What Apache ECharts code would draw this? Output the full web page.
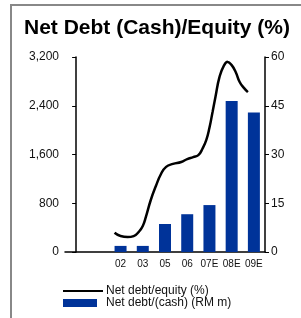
<!DOCTYPE html>
<html>
<head>
    <meta charset="utf-8" />
    <title>Net Debt (Cash)/Equity (%)</title>
    <script src="https://cdn.jsdelivr.net/npm/echarts@6/dist/echarts.min.js"></script>
    <style>
        html, body { margin: 0; padding: 0; background: #fff; overflow: hidden; }
    </style>
</head>
<body>
<div id="main" style="width: 301px; height: 318px"></div>
<script type="text/javascript">
    // categories (two blank slots before 02, 04 not shown)
    var categories = ['', '', '02', '03', '05', '06', '07E', '08E', '09E'];
    // net debt/(cash) RM m, left axis
    var netDebt = [null, null, 100, 100, 460, 620, 770, 2480, 2290];
    // net debt/equity %, right axis; x is the position along the category slots
    var gearingPos = [1.73, 2.0, 2.32, 2.59, 2.82, 3.0, 3.14, 3.36, 3.59, 3.82, 4.05, 4.36, 4.73, 5.0,
        5.27, 5.5, 5.68, 5.86, 6.0, 6.14, 6.27, 6.45, 6.64, 6.82, 7.0, 7.18, 7.36, 7.55, 7.73];
    var gearing = [5.9, 4.9, 4.6, 4.9, 6.2, 8.0, 10.8, 16.0, 20.3, 24.0, 26.2, 27.1, 27.7, 28.6,
        29.2, 29.8, 31.7, 34.5, 38.2, 43.1, 47.7, 53.8, 57.2, 58.5, 57.5, 55.4, 52.3, 50.5, 49.2];
    var leftTicks = [0, 800, 1600, 2400, 3200];
    var rightTicks = [0, 15, 30, 45, 60];

    var lineData = [];
    for (var i = 0; i < gearing.length; i++) {
        lineData.push([gearingPos[i], gearing[i]]);
    }

    var font = 'Liberation Sans, Arial, sans-serif';
    var myChart = echarts.init(document.getElementById('main'));
    myChart.setOption({
        animation: false,
        textStyle: { fontFamily: font },
        graphic: [{
            type: 'line',
            shape: { x1: 11, y1: 5, x2: 11, y2: 318 },
            style: { stroke: '#888', lineWidth: 2 },
            silent: true
        }, {
            type: 'line',
            shape: { x1: 10, y1: 5, x2: 301, y2: 5 },
            style: { stroke: '#888', lineWidth: 2 },
            silent: true
        }],
        title: {
            text: 'Net Debt (Cash)/Equity (%)',
            left: 19,
            top: 13,
            textStyle: { fontSize: 21, fontWeight: 'bold', color: '#000', fontFamily: font }
        },
        legend: [{
            left: 63,
            top: 285,
            padding: 0,
            itemWidth: 40,
            itemHeight: 10,
            textStyle: { fontSize: 12, color: '#111', fontFamily: font, padding: [0, 0, 0, -2] },
            data: [{ name: 'Net debt/equity (%)', icon: 'path://M0,4H40V6H0Z' }]
        }, {
            left: 63,
            top: 297,
            padding: 0,
            itemWidth: 34,
            itemHeight: 8,
            textStyle: { fontSize: 12, color: '#111', fontFamily: font, padding: [0, 0, 0, 4] },
            data: [{ name: 'Net debt/(cash) (RM m)', icon: 'rect' }]
        }],
        grid: { left: 65, right: 36, top: 57, bottom: 66 },
        xAxis: [{
            type: 'category',
            data: categories,
            axisLine: { lineStyle: { color: '#000', width: 1.5 } },
            axisTick: { show: false },
            axisLabel: { fontSize: 10, color: '#111', margin: 7, interval: 0 }
        }, {
            type: 'value',
            min: -0.5,
            max: 8.5,
            show: false
        }],
        yAxis: [{
            type: 'value',
            min: leftTicks[0],
            max: leftTicks[leftTicks.length - 1],
            interval: 800,
            axisLine: { show: true, lineStyle: { color: '#000', width: 1.5 } },
            axisTick: { show: true, length: 4, lineStyle: { color: '#000' } },
            splitLine: { show: false },
            axisLabel: {
                fontSize: 12, color: '#111', margin: 6,
                formatter: function (v) { return v.toLocaleString('en-US'); }
            }
        }, {
            type: 'value',
            position: 'right',
            min: rightTicks[0],
            max: rightTicks[rightTicks.length - 1],
            interval: 15,
            axisLine: { show: true, lineStyle: { color: '#000', width: 1.5 } },
            axisTick: { show: true, length: 4, lineStyle: { color: '#000' } },
            splitLine: { show: false },
            axisLabel: { fontSize: 12, color: '#111', margin: 6 }
        }],
        series: [{
            name: 'Net debt/(cash) (RM m)',
            type: 'bar',
            data: netDebt,
            barWidth: 12,
            itemStyle: { color: '#003399' }
        }, {
            name: 'Net debt/equity (%)',
            type: 'line',
            xAxisIndex: 1,
            yAxisIndex: 1,
            data: lineData,
            smooth: true,
            symbol: 'none',
            lineStyle: { color: '#000', width: 2.5 },
            itemStyle: { color: '#000' }
        }]
    });
</script>
</body>
</html>
